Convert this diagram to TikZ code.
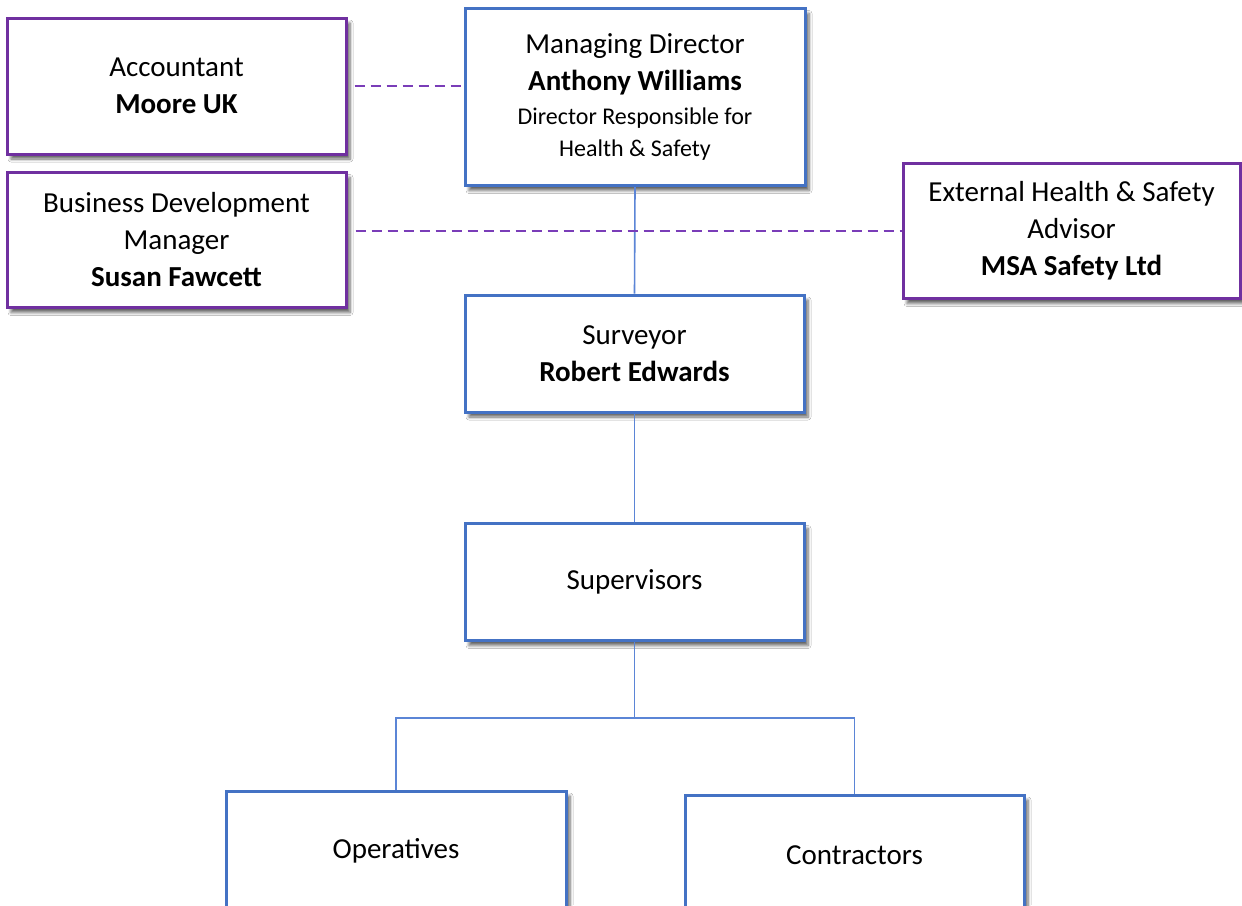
\documentclass[tikz,border=0pt]{standalone}
\usepackage{fontspec}
\setmainfont{Carlito}
\usetikzlibrary{shadows.blur,calc}
\definecolor{boxblue}{HTML}{4472C4}
\definecolor{boxpurple}{HTML}{7030A0}
\definecolor{lineblue}{HTML}{5B85D6}
\definecolor{dashpurple}{HTML}{7A3DB8}
\tikzset{
  orgbox/.style={draw=boxblue, line width=3pt, fill=white, inner sep=0pt, align=center,
    font=\fontsize{29}{37}\selectfont,
    blur shadow={shadow xshift=4pt, shadow yshift=-5pt, shadow blur steps=6, shadow blur radius=3pt, shadow opacity=60}},
  extbox/.style={orgbox, draw=boxpurple},
  tree/.style={draw=lineblue, line width=1.6pt},
  dotted link/.style={draw=dashpurple, line width=1.8pt, dash pattern=on 10pt off 6pt},
}
\newcommand{\smalltxt}{\fontsize{24}{30}\selectfont}
\begin{document}
\begin{tikzpicture}[x=1pt,y=-1pt]
\useasboundingbox (0,0) rectangle (1242,905);
\clip (0,0) rectangle (1242,905);
\fill[white] (0,0) rectangle (1242,905);

\node[extbox, minimum width=339pt, minimum height=136pt] (acc) at (176.5,86) {Accountant\\\textbf{Moore UK}};
\node[orgbox, minimum width=340pt, minimum height=177pt] (md) at (635,97)
  {Managing Director\\\textbf{Anthony Williams}\\[-3pt]{\smalltxt Director Responsible for}\\[-5pt]{\smalltxt Health \& Safety}};
\node[extbox, minimum width=339pt, minimum height=135pt] (bdm) at (176.5,240) {Business Development\\Manager\\\textbf{Susan Fawcett}};
\node[extbox, minimum width=337pt, minimum height=135pt] (ext) at (1071.5,231) {External Health \& Safety\\Advisor\\\textbf{MSA Safety Ltd}};
\node[orgbox, minimum width=339pt, minimum height=117pt] (sur) at (634.5,353.5) {Surveyor\\\textbf{Robert Edwards}};
\node[orgbox, minimum width=339pt, minimum height=117pt] (sup) at (634.5,582) {Supervisors};
\node[orgbox, minimum width=340pt, minimum height=120pt] (op) at (396,851) {Operatives};
\node[orgbox, minimum width=339pt, minimum height=120pt] (con) at (854.5,855) {Contractors};

\draw[tree] (md.south) -- (sur.north);
\draw[tree] (sur.south) -- (sup.north);
\draw[tree] (sup.south) -- ++(0,76) coordinate (br) -| (op.north);
\draw[tree] (br) -| (con.north);

\draw[dotted link, shorten <=7pt] (acc.east) -- (acc.east -| md.west);
\draw[dotted link, shorten <=8pt] (bdm.east |- ext.west) -- (ext.west);
\end{tikzpicture}
\end{document}
